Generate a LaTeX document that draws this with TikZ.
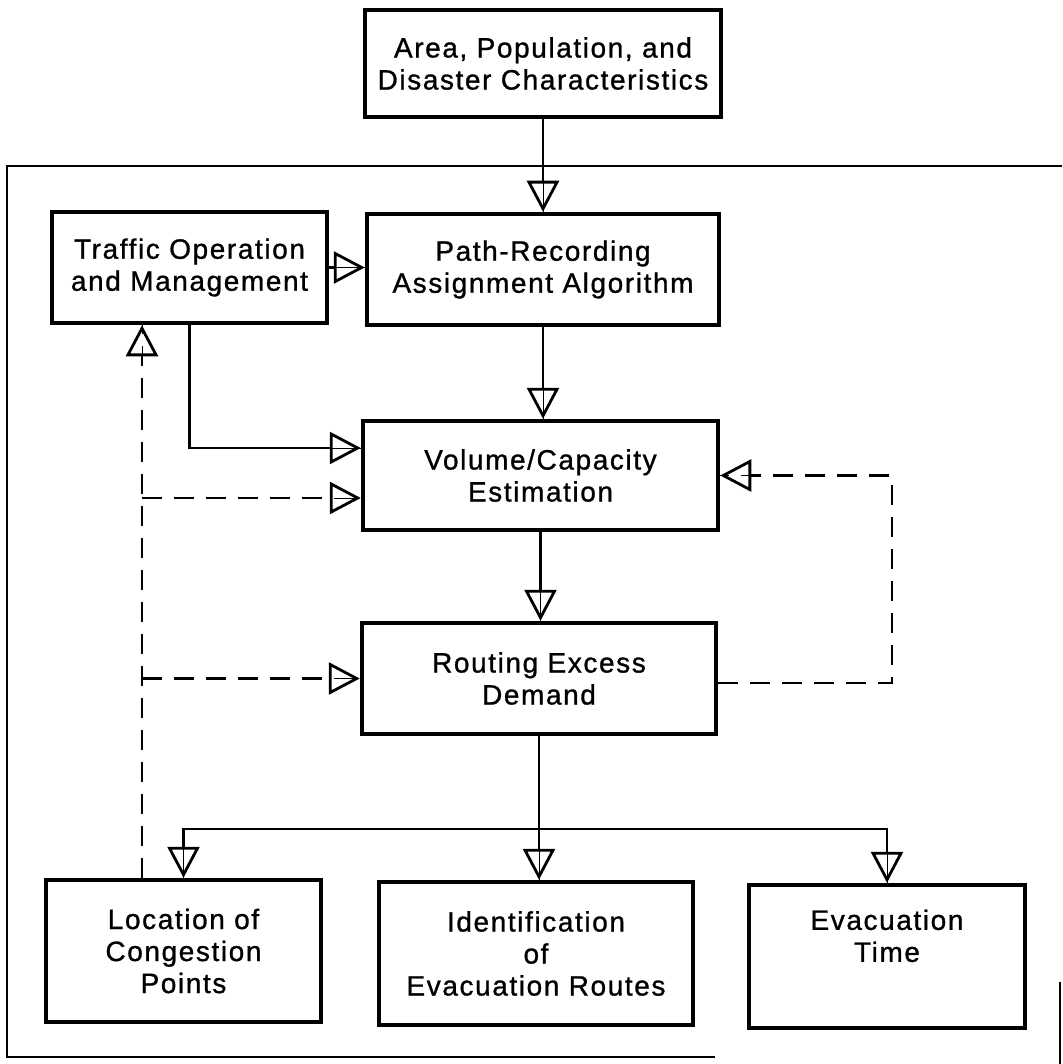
\documentclass[tikz,border=0pt]{standalone}
\usepackage{fontspec}
\setmainfont{Liberation Sans}[LetterSpace=5.7, FakeBold=1]
\usetikzlibrary{arrows.meta}
\begin{document}
\begin{tikzpicture}[x=1pt, y=-1pt,
  box/.style={draw, line width=4.5pt, inner sep=0pt, align=center,
    font=\fontsize{28}{32}\selectfont, line join=miter},
  tip/.style={-{Triangle[open, length=31pt, width=32pt, line width=2.8pt]}},
  flow/.style={line width=2.2pt, tip, preaction={draw, -}},
  back/.style={line width=2.4pt, tip, dash pattern=on 20pt off 12pt,
    preaction={draw, -, dash pattern=on 20pt off 12pt}},
  link/.style={line width=2.2pt},
  frame/.style={line width=2.6pt}]
\useasboundingbox (0,0) rectangle (1062,1064);

% outer frame of the model
\draw[frame] (1062,166) -- (7,166) -- (7,1057) -- (715,1057);
\draw[frame] (1060,982) -- (1060,1064);

% process boxes
\node[box, minimum width=356pt, minimum height=107pt] (A) at (543,63.5)
  {Area, Population, and\\Disaster Characteristics};
\node[box, minimum width=275pt, minimum height=111pt] (T) at (189.5,267.5)
  {Traffic Operation\\and Management};
\node[box, minimum width=352pt, minimum height=111pt] (B) at (543,269.5)
  {Path-Recording\\Assignment Algorithm};
\node[box, minimum width=355pt, minimum height=109pt] (V) at (540.5,475.5)
  {Volume/Capacity\\Estimation};
\node[box, minimum width=354pt, minimum height=111pt] (R) at (539,678.5)
  {Routing Excess\\Demand};
\node[box, minimum width=275pt, minimum height=142pt] (L) at (183.5,951)
  {Location of\\Congestion\\Points};
\node[box, minimum width=314pt, minimum height=143pt] (I) at (536,953.5)
  {Identification\\of\\Evacuation Routes};
\node[box, minimum width=276pt, minimum height=143pt] (E) at (887,956.5)
  {Evacuation\\Time\\\strut};

% routing helpers
\coordinate (loopL) at (142,0);
\coordinate (loopR) at (892,0);
\coordinate (fork) at (0,829);
\coordinate (vinT) at ([yshift=27.5pt]V.west);
\coordinate (vinL) at ([yshift=-22.5pt]V.west);
\coordinate (rout) at ([yshift=-4.5pt]R.east);

% main flow
\draw[flow] (A.south) -- (A.south |- B.north);
\draw[flow] (T.east) -- (T.east -| B.west);
\draw[flow] (B.south) -- (B.south |- V.north);
\draw[flow] (T.south) |- (vinT);
\draw[flow] (V.south) -- (V.south |- R.north);

% feedback loops
\draw[back] (L.north -| loopL) -- (T.south -| loopL);
\draw[back] (loopL |- vinL) -- (vinL);
\draw[back] (loopL |- R.west) -- (R.west);
\draw[back] (rout) -- (rout -| loopR) -- (V.east -| loopR) -- (V.east);

% outputs
\draw[link] (R.south) -- (R.south |- fork);
\draw[flow] (R.south |- fork) -| (L.north);
\draw[flow] (R.south |- fork) -- (R.south |- I.north);
\draw[flow] (R.south |- fork) -| (E.north);
\end{tikzpicture}
\end{document}
